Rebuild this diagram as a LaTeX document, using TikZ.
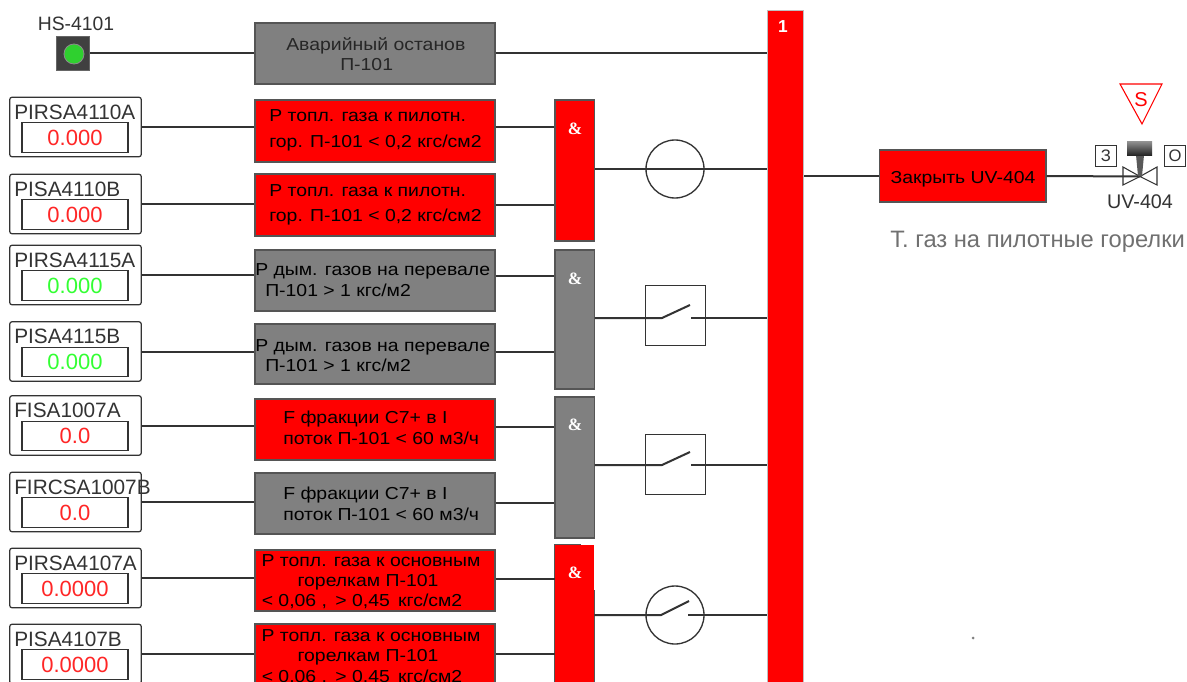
\documentclass[tikz,border=0pt]{standalone}
\usepackage{fontspec}
\setmainfont{Liberation Sans}
\newfontfamily\gatefont{Liberation Serif}
\newfontfamily\blockfont[FakeStretch=1.12]{Liberation Sans}
\definecolor{dk}{HTML}{333333}
\definecolor{edge}{HTML}{555555}
\definecolor{alarm}{HTML}{FF0000}
\definecolor{idle}{HTML}{808080}
\definecolor{okgreen}{HTML}{33FF33}
\definecolor{lamp}{HTML}{2FD02F}
\definecolor{capt}{HTML}{707070}
\tikzset{
  conn/.style={draw=dk,line width=1.5pt},
  instbox/.style={draw=dk,fill=white,line width=0.9pt,rounded corners=1.5pt,minimum width=98.5pt,minimum height=44.5pt,inner sep=0},
  valbox/.style={draw=dk,fill=white,line width=0.8pt,minimum width=79.5pt,minimum height=22pt,inner sep=0,font=\fontsize{16.5}{18}\selectfont},
  tagtext/.style={anchor=west,inner sep=0,text=dk,font=\fontsize{15.6}{17}\selectfont},
  blockbox/.style={draw=edge,line width=1pt,minimum width=180pt,inner sep=0},
  blocktext/.style={inner sep=0,yshift=-1.5pt,text height=8.5pt,text depth=2.5pt,font=\blockfont\fontsize{13}{15}\selectfont},
  gatebox/.style={draw=edge,line width=1pt,minimum width=29.5pt,inner sep=0},
  gatesign/.style={inner sep=0,text=white,font=\gatefont\bfseries\fontsize{13}{15}\selectfont},
  smallbox/.style={draw=dk,fill=white,line width=0.8pt,inner sep=0,minimum size=16pt,font=\fontsize{12.5}{14}\selectfont,text=dk},
  contactbox/.style={draw=dk,fill=white,line width=0.9pt,minimum size=45.5pt,inner sep=0},
  contactring/.style={circle,draw=dk,fill=white,line width=1pt,minimum size=43.5pt,inner sep=0},
}
\newcommand\inst[5]{%
  \node[instbox] (#1) at (75.5,#2) {};
  \node[tagtext] (#1t) at (14,{#2-15}) {#3};
  \node[valbox,text=#5] (#1v) at (75,{#2+10.5}) {#4};
}
\newcommand\blk[4]{%
  \node[blockbox,fill=#2,minimum height={(#4-#3)*0.75pt}] (#1) at (375,{(#3+#4)/2}) {};
}
\newcommand\gate[4]{%
  \node[gatebox,fill=#2,minimum height={(#4-#3)*0.75pt}] (#1) at (574.5,{(#3+#4)/2}) {};
}
\begin{document}
\begin{tikzpicture}[x=0.75pt,y=-0.75pt]
\useasboundingbox (0,0) rectangle (1187,681);
\clip (0,0) rectangle (1187,681);
\fill[white] (0,0) rectangle (1187,681);

% bus
\node[fill=alarm,draw=black!25,line width=0.6pt,minimum width=27.5pt,minimum height=520pt,inner sep=0] (bus) at (785.5,{10+346.67}) {};
\node[inner sep=0,text=white,font=\bfseries\fontsize{13}{15}\selectfont] (busn) at (783,27) {1};

% HS-4101
\node[inner sep=0,text=dk,font=\fontsize{14.5}{16}\selectfont] (hsl) at (76,24) {HS-4101};
\node[fill=black!75,draw=black!60,line width=0.6pt,minimum size=25pt,inner sep=0] (hs) at (73,53.5) {};
\node[circle,fill=lamp,draw=black!45,line width=0.6pt,minimum size=15pt,inner sep=0] (hsc) at (74,54) {};

% instruments
\inst{i1}{127}{PIRSA4110A}{0.000}{red!85}
\inst{i2}{204}{PISA4110B}{0.000}{red!85}
\inst{i3}{275}{PIRSA4115A}{0.000}{okgreen}
\inst{i4}{351.5}{PISA4115B}{0.000}{okgreen}
\inst{i5}{425.5}{FISA1007A}{0.0}{red!85}
\inst{i6}{502}{FIRCSA1007B}{0.0}{red!85}
\inst{i7}{578}{PIRSA4107A}{0.0000}{red!85}
\inst{i8}{654}{PISA4107B}{0.0000}{red!85}

% blocks
\blk{b0}{idle}{23}{84}
\blk{b1}{alarm}{100}{162}
\blk{b2}{alarm}{174}{236}
\blk{b3}{idle}{250}{311}
\blk{b4}{idle}{324}{384}
\blk{b5}{alarm}{399}{460}
\blk{b6}{idle}{473}{534}
\blk{b7}{alarm}{550}{611}
\blk{b8}{alarm}{624}{686}

% gates
\gate{g1}{alarm}{100}{241}
\gate{g2}{idle}{250}{389}
\gate{g3}{idle}{397}{538}
\node[fill=alarm,minimum width=29.5pt,minimum height=110pt,inner sep=0] (g4) at (574.5,{545+73.33}) {};
\draw[draw=edge,line width=1pt] (g4.north west) ++(26,0) -- (g4.north west) -- ++(0,160);
\draw[draw=edge,line width=1pt] (g4.east |- 0,590) -- (g4.east |- 0,690);
\node[gatesign] (s1) at (575,129) {\&};
\node[gatesign] (s2) at (575,279) {\&};
\node[gatesign] (s3) at (575,425) {\&};
\node[gatesign] (s4) at (575,573) {\&};

% connectors: HS and instruments to blocks
\draw[conn] (hs.east) -- (hs.east -| b0.west);
\foreach \a/\b in {i1/b1,i2/b2,i3/b3,i4/b4,i5/b5,i6/b6,i7/b7,i8/b8}
  \draw[conn] (\a.east) -- (\a.east -| \b.west);

% connectors: blocks to gates and bus
\draw[conn] (b0.east |- hs.east) -- (bus.west |- hs.east);
\draw[conn] (b1.east |- i1.east) -- (g1.west |- i1.east);
\draw[conn] (b2.east |- 0,205) -- (g1.west |- 0,205);
\draw[conn] (b3.east |- 0,276) -- (g2.west |- 0,276);
\draw[conn] (b4.east |- 0,352) -- (g2.west |- 0,352);
\draw[conn] (b5.east |- 0,427) -- (g3.west |- 0,427);
\draw[conn] (b6.east |- 0,503) -- (g3.west |- 0,503);
\draw[conn] (b7.east |- 0,579) -- (g4.west |- 0,579);
\draw[conn] (b8.east |- 0,654) -- (g4.west |- 0,654);

% contact 1: plain ring
\node[contactring] (c1) at (675,169) {};
\draw[conn] (g1.east |- c1) -- (bus.west |- c1);

% contact 2, 3: boxed open switch
\node[contactbox] (c2) at (675.5,315.5) {};
\coordinate (c2a) at (662,318); \coordinate (c2b) at (690,305); \coordinate (c2c) at (691,318);
\draw[conn] (g2.east |- c2a) -- (c2a) -- (c2b);
\draw[conn] (c2c) -- (bus.west |- c2c);
\node[contactbox] (c3) at (675.5,464.5) {};
\coordinate (c3a) at (662,465); \coordinate (c3b) at (690,452); \coordinate (c3c) at (691,465);
\draw[conn] (g3.east |- c3a) -- (c3a) -- (c3b);
\draw[conn] (c3c) -- (bus.west |- c3c);

% contact 4: ring with open switch
\node[contactring] (c4) at (675,615) {};
\coordinate (c4a) at (661,615); \coordinate (c4b) at (689,601); \coordinate (c4c) at (688,615);
\draw[conn] (g4.east |- c4a) -- (c4a) -- (c4b);
\draw[conn] (c4c) -- (bus.west |- c4c);

% block texts
\node[blocktext,anchor=west,text=black!85] (t0a) at (286,45) {Аварийный останов};
\node[blocktext,anchor=west,text=black!85] (t0b) at (340,65) {П-101};
\node[blocktext,anchor=west] (t1a) at (269,116) {Р топл. газа к пилотн.};
\node[blocktext,anchor=west] (t1b) at (269,141) {гор. П-101 < 0,2 кгс/см2};
\node[blocktext,anchor=west] (t2a) at (269,190) {Р топл. газа к пилотн.};
\node[blocktext,anchor=west] (t2b) at (269,215) {гор. П-101 < 0,2 кгс/см2};
\node[blocktext,anchor=west] (t3a) at (255,269) {Р дым. газов на перевале};
\node[blocktext,anchor=west] (t3b) at (265,290) {П-101 > 1 кгс/м2};
\node[blocktext,anchor=west] (t4a) at (255,345) {Р дым. газов на перевале};
\node[blocktext,anchor=west] (t4b) at (265,365) {П-101 > 1 кгс/м2};
\node[blocktext,anchor=west] (t5a) at (283,417) {F фракции С7+ в I};
\node[blocktext,anchor=west] (t5b) at (283,438) {поток П-101 < 60 м3/ч};
\node[blocktext,anchor=west] (t6a) at (283,493) {F фракции С7+ в I};
\node[blocktext,anchor=west] (t6b) at (283,514) {поток П-101 < 60 м3/ч};
\node[blocktext] (t7a) at (371,560) {Р топл. газа к основным};
\node[blocktext] (t7b) at (368,580) {горелкам П-101};
\node[blocktext] (t7c) at (362,600) {< 0,06 ,\, > 0,45\, кгс/см2};
\node[blocktext] (t8a) at (371,635) {Р топл. газа к основным};
\node[blocktext] (t8b) at (368,655) {горелкам П-101};
\node[blocktext] (t8c) at (362,676) {< 0,06 ,\, > 0,45\, кгс/см2};

% output
\node[fill=alarm,draw=edge,line width=1pt,minimum width=125pt,minimum height=39pt,inner sep=0] (out) at (962.5,176) {};
\node[blocktext] (outt) at (963,177) {Закрыть UV-404};
\coordinate (vc) at (1140,176.5);
\draw[conn] (bus.east |- out) -- (out.west);
% valve
\draw[draw=dk,fill=white,line width=0.8pt] (1123,167) -- (vc) -- (1123,185) -- cycle;
\draw[draw=dk,fill=white,line width=0.8pt] (1157,167) -- (vc) -- (1157,185) -- cycle;
\draw[conn] (out.east) -- (vc);
\fill[black!65] (1136,155) -- (1144,155) -- (1142,176) -- (1138,176) -- cycle;
\shade[top color=black!45,bottom color=black!85] (1127,142) rectangle (1152,155);
\node[smallbox] (v3) at (1106,156) {З};
\node[smallbox] (vo) at (1175,156) {О};
\node[inner sep=0,text=dk,font=\fontsize{14.8}{16}\selectfont] (vl) at (1140,202) {UV-404};
% S triangle
\draw[draw=red,fill=white,line width=0.8pt] (1120,84) -- (1162,84) -- (1142,124) -- cycle;
\node[inner sep=0,text=red,font=\fontsize{15}{17}\selectfont] (vs) at (1141,100) {S};
\node[anchor=west,inner sep=0,text=capt,font=\fontsize{17.8}{20}\selectfont] (cap) at (890,242) {Т. газ на пилотные горелки};
% speck
\fill[black!50] (973,638) circle (1.5);
\end{tikzpicture}
\end{document}
